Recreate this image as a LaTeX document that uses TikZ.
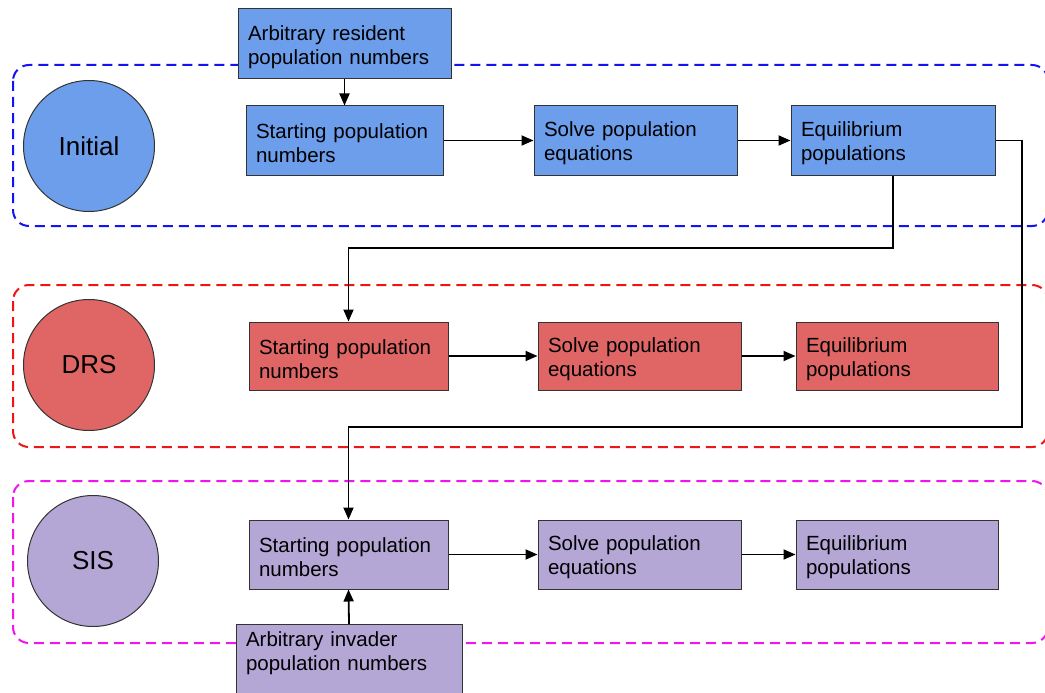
\documentclass[tikz,border=0pt]{standalone}
\usepackage{fontspec}
\setmainfont{Liberation Sans}
\usetikzlibrary{arrows.meta}
\definecolor{cblue}{HTML}{6D9EEB}
\definecolor{cred}{HTML}{E06666}
\definecolor{cpurp}{HTML}{B4A7D6}
\definecolor{edge}{HTML}{333333}
\begin{document}
\begin{tikzpicture}[x=1pt,y=-1pt,
  box/.style={draw=edge, line width=1pt, rectangle, inner sep=0pt, align=left,
    font=\fontsize{20.5}{24}\selectfont, execute at begin node={\rule{0pt}{21pt}}},
  stage/.style={draw=edge, line width=1pt, circle, inner sep=0pt, minimum size=131pt,
    font=\fontsize{26}{30}\selectfont},
  group/.style={dashed, dash pattern=on 10pt off 6pt, line width=2pt, rounded corners=16pt},
  arr/.style={draw=black, line width=1.8pt, -{Triangle[length=12pt,width=10pt]}}]
\clip (0,0) rectangle (1045,693);
\fill[white] (0,0) rectangle (1045,693);
% dashed groups
\draw[group, draw={rgb,255:red,20;green,20;blue,240}] (13,65) rectangle (1048,226);
\draw[group, draw={rgb,255:red,240;green,20;blue,20}] (13,285) rectangle (1048,447);
\draw[group, draw={rgb,255:red,240;green,20;blue,240}] (13,481) rectangle (1048,643);
% stage circles
\node[stage, fill=cblue] (cI) at (89,146) {Initial};
\node[stage, fill=cred]  (cR) at (89,365) {DRS};
\node[stage, fill=cpurp] (cS) at (93,561) {SIS};
% row 1
\node[box, fill=cblue, minimum width=213pt, minimum height=70pt, text width=193pt] (arbres) at (344.5,44) {Arbitrary resident\\population numbers};
\node[box, fill=cblue, minimum width=197pt, minimum height=69pt, text width=177pt] (startI) at (344.5,140.5) {Starting population\\numbers};
\node[box, fill=cblue, minimum width=203pt, minimum height=70pt, text width=183pt] (solveI) at (635.5,140.5) {Solve population\\equations};
\node[box, fill=cblue, minimum width=204pt, minimum height=70pt, text width=184pt] (eqI) at (893,140.5) {Equilibrium\\populations};
% row 2
\node[box, fill=cred, minimum width=199pt, minimum height=68pt, text width=179pt] (startR) at (348.5,356) {Starting population\\numbers};
\node[box, fill=cred, minimum width=203pt, minimum height=68pt, text width=183pt] (solveR) at (639.5,356) {Solve population\\equations};
\node[box, fill=cred, minimum width=202pt, minimum height=68pt, text width=182pt] (eqR) at (897,356) {Equilibrium\\populations};
% row 3
\node[box, fill=cpurp, minimum width=199pt, minimum height=69pt, text width=179pt] (startS) at (348.5,554.5) {Starting population\\numbers};
\node[box, fill=cpurp, minimum width=203pt, minimum height=69pt, text width=183pt] (solveS) at (639.5,554.5) {Solve population\\equations};
\node[box, fill=cpurp, minimum width=202pt, minimum height=69pt, text width=182pt] (eqS) at (897,554.5) {Equilibrium\\populations};
\node[box, fill=cpurp, minimum width=226pt, minimum height=110pt, text width=206pt, anchor=north] (inv) at (349,624) {Arbitrary invader\\population numbers\\[40pt]\mbox{}};
% connectors
\draw[arr] (arbres) -- (startI);
\draw[arr] (startI) -- (solveI);
\draw[arr] (solveI) -- (eqI);
\draw[arr] (startR) -- (solveR);
\draw[arr] (solveR) -- (eqR);
\draw[arr] (startS) -- (solveS);
\draw[arr] (solveS) -- (eqS);
\coordinate (jR) at (893,248);
\coordinate (jS) at (1022,427);
\draw[arr] (eqI.south) -- (jR) -| (startR.north);
\draw[arr] (eqI.east) -| (jS) -| (startS.north);
\draw[arr] (inv.north) -- (startS.south);
\end{tikzpicture}
\end{document}
